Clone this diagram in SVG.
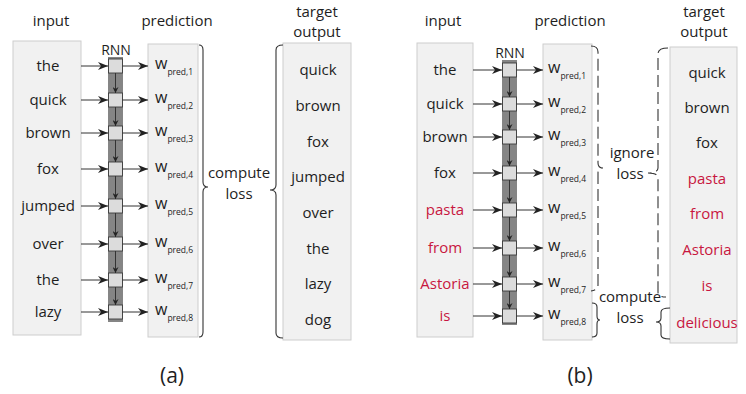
<svg xmlns="http://www.w3.org/2000/svg" width="746" height="394" viewBox="0 0 746 394">
<defs>
<style>
text{font-family:"Open Sans","Noto Sans","DejaVu Sans",sans-serif;fill:#1e1e1e;}
.w{font-size:15px;text-anchor:middle;}
.h{font-size:15px;text-anchor:middle;}
.red{fill:#c8173f;}
.lbl{font-size:21px;text-anchor:middle;}
.rnn{font-size:14px;text-anchor:middle;}
.wp{font-size:16px;}
.sub{font-size:8.5px;}
.box{fill:#f1f1f1;stroke:#cdcdcd;stroke-width:1;}
.strip{fill:#858585;}
.cell{fill:#dcdcdc;stroke:#3a3a3a;stroke-width:0.9;}
.arr{stroke:#333;stroke-width:1;fill:none;marker-end:url(#ah);}
.dn{stroke:#333;stroke-width:1;fill:none;marker-end:url(#ahs);}
.br{stroke:#333;stroke-width:1.1;fill:none;}
.dash{stroke-dasharray:12,5;}
</style>
<marker id="ah" markerUnits="userSpaceOnUse" markerWidth="10" markerHeight="8" refX="10" refY="4" orient="auto">
<path d="M0,0 L10,4 L0,8 L3,4 z" fill="#222"/>
</marker>
<marker id="ahs" markerUnits="userSpaceOnUse" markerWidth="6" markerHeight="6" refX="6" refY="3" orient="auto">
<path d="M0,0 L6,3 L0,6 L2,3 z" fill="#222"/>
</marker>
</defs>

<!-- ========== Panel (a) ========== -->
<g id="a-input">
<rect class="box" x="13" y="41" width="68" height="294"/>
<text class="h" x="51" y="26">input</text>
<text class="w" x="48" y="71">the</text>
<text class="w" x="48" y="105">quick</text>
<text class="w" x="48" y="138">brown</text>
<text class="w" x="48" y="174">fox</text>
<text class="w" x="48" y="211">jumped</text>
<text class="w" x="48" y="249">over</text>
<text class="w" x="48" y="285">the</text>
<text class="w" x="48" y="317">lazy</text>
</g>

<g id="a-rnn">
<text class="rnn" x="116" y="55">RNN</text>
<rect class="strip" x="108" y="57" width="15" height="265"/>
<rect class="cell" x="108.5" y="59" width="14" height="14"/>
<rect class="cell" x="108.5" y="93" width="14" height="14"/>
<rect class="cell" x="108.5" y="126" width="14" height="14"/>
<rect class="cell" x="108.5" y="162" width="14" height="14"/>
<rect class="cell" x="108.5" y="199" width="14" height="14"/>
<rect class="cell" x="108.5" y="237" width="14" height="14"/>
<rect class="cell" x="108.5" y="273" width="14" height="14"/>
<rect class="cell" x="108.5" y="305" width="14" height="14"/>
</g>

<g id="a-prediction">
<rect class="box" x="148" y="44" width="50" height="293"/>
<text class="h" x="177" y="26">prediction</text>
<text x="155" y="69"><tspan class="wp">w</tspan><tspan class="sub" dy="6">pred,1</tspan></text>
<text x="155" y="103"><tspan class="wp">w</tspan><tspan class="sub" dy="6">pred,2</tspan></text>
<text x="155" y="136"><tspan class="wp">w</tspan><tspan class="sub" dy="6">pred,3</tspan></text>
<text x="155" y="172"><tspan class="wp">w</tspan><tspan class="sub" dy="6">pred,4</tspan></text>
<text x="155" y="209"><tspan class="wp">w</tspan><tspan class="sub" dy="6">pred,5</tspan></text>
<text x="155" y="247"><tspan class="wp">w</tspan><tspan class="sub" dy="6">pred,6</tspan></text>
<text x="155" y="283"><tspan class="wp">w</tspan><tspan class="sub" dy="6">pred,7</tspan></text>
<text x="155" y="315"><tspan class="wp">w</tspan><tspan class="sub" dy="6">pred,8</tspan></text>
</g>

<g id="a-loss">
<text class="h" x="239" y="178">compute</text>
<text class="h" x="239" y="199">loss</text>
</g>

<g id="a-target">
<rect class="box" x="283" y="43" width="68" height="297"/>
<text class="h" x="317" y="17">target</text>
<text class="h" x="317" y="37">output</text>
<text class="w" x="318" y="75">quick</text>
<text class="w" x="318" y="111">brown</text>
<text class="w" x="318" y="147">fox</text>
<text class="w" x="318" y="182">jumped</text>
<text class="w" x="318" y="218">over</text>
<text class="w" x="318" y="254">the</text>
<text class="w" x="318" y="289">lazy</text>
<text class="w" x="318" y="325">dog</text>
</g>

<g id="a-label"><text class="lbl" x="172" y="383">(a)</text></g>

<!-- ========== Panel (b) ========== -->
<g id="b-input">
<rect class="box" x="417" y="43" width="56" height="294"/>
<text class="h" x="443" y="26">input</text>
<text class="w" x="445" y="75">the</text>
<text class="w" x="445" y="109">quick</text>
<text class="w" x="445" y="142">brown</text>
<text class="w" x="445" y="178">fox</text>
<text class="w red" x="445" y="215">pasta</text>
<text class="w red" x="445" y="253">from</text>
<text class="w red" x="445" y="289">Astoria</text>
<text class="w red" x="445" y="321">is</text>
</g>

<g id="b-rnn">
<text class="rnn" x="510" y="58">RNN</text>
<rect class="strip" x="502" y="60" width="15" height="265"/>
<rect class="cell" x="502.5" y="63" width="14" height="14"/>
<rect class="cell" x="502.5" y="97" width="14" height="14"/>
<rect class="cell" x="502.5" y="130" width="14" height="14"/>
<rect class="cell" x="502.5" y="166" width="14" height="14"/>
<rect class="cell" x="502.5" y="203" width="14" height="14"/>
<rect class="cell" x="502.5" y="241" width="14" height="14"/>
<rect class="cell" x="502.5" y="277" width="14" height="14"/>
<rect class="cell" x="502.5" y="309" width="14" height="14"/>
</g>

<g id="b-prediction">
<rect class="box" x="543" y="44" width="49" height="296"/>
<text class="h" x="570" y="26">prediction</text>
<text x="548" y="73"><tspan class="wp">w</tspan><tspan class="sub" dy="6">pred,1</tspan></text>
<text x="548" y="107"><tspan class="wp">w</tspan><tspan class="sub" dy="6">pred,2</tspan></text>
<text x="548" y="140"><tspan class="wp">w</tspan><tspan class="sub" dy="6">pred,3</tspan></text>
<text x="548" y="176"><tspan class="wp">w</tspan><tspan class="sub" dy="6">pred,4</tspan></text>
<text x="548" y="213"><tspan class="wp">w</tspan><tspan class="sub" dy="6">pred,5</tspan></text>
<text x="548" y="251"><tspan class="wp">w</tspan><tspan class="sub" dy="6">pred,6</tspan></text>
<text x="548" y="287"><tspan class="wp">w</tspan><tspan class="sub" dy="6">pred,7</tspan></text>
<text x="548" y="319"><tspan class="wp">w</tspan><tspan class="sub" dy="6">pred,8</tspan></text>
</g>

<g id="b-ignore">
<text class="h" x="632" y="158">ignore</text>
<text class="h" x="630" y="179">loss</text>
</g>

<g id="b-compute">
<text class="h" x="630" y="302">compute</text>
<text class="h" x="630" y="323">loss</text>
</g>

<g id="b-target">
<rect class="box" x="670" y="47" width="67" height="296"/>
<text class="h" x="704" y="17">target</text>
<text class="h" x="704" y="37">output</text>
<text class="w" x="707" y="78">quick</text>
<text class="w" x="707" y="113">brown</text>
<text class="w" x="707" y="148">fox</text>
<text class="w red" x="707" y="184">pasta</text>
<text class="w red" x="707" y="219">from</text>
<text class="w red" x="707" y="255">Astoria</text>
<text class="w red" x="707" y="291">is</text>
<text class="w red" x="707" y="328">delicious</text>
</g>

<g id="b-label"><text class="lbl" x="580" y="383">(b)</text></g>

<!-- ========== Connectors ========== -->
<g id="connectors">
<!-- (a) input -> RNN -->
<path class="arr" d="M81,66 H108"/>
<path class="arr" d="M81,100 H108"/>
<path class="arr" d="M81,133 H108"/>
<path class="arr" d="M81,169 H108"/>
<path class="arr" d="M81,206 H108"/>
<path class="arr" d="M81,244 H108"/>
<path class="arr" d="M81,280 H108"/>
<path class="arr" d="M81,312 H108"/>
<!-- (a) RNN -> prediction -->
<path class="arr" d="M122.5,66 H148"/>
<path class="arr" d="M122.5,100 H148"/>
<path class="arr" d="M122.5,133 H148"/>
<path class="arr" d="M122.5,169 H148"/>
<path class="arr" d="M122.5,206 H148"/>
<path class="arr" d="M122.5,244 H148"/>
<path class="arr" d="M122.5,280 H148"/>
<path class="arr" d="M122.5,312 H148"/>
<!-- (a) recurrent -->
<path class="dn" d="M115.5,73 V93"/>
<path class="dn" d="M115.5,107 V126"/>
<path class="dn" d="M115.5,140 V162"/>
<path class="dn" d="M115.5,176 V199"/>
<path class="dn" d="M115.5,213 V237"/>
<path class="dn" d="M115.5,251 V273"/>
<path class="dn" d="M115.5,287 V305"/>
<!-- (a) braces -->
<path class="br" d="M199,45 Q203,45 203,50 L203,182 Q203,187 208,187 Q203,187 203,192 L203,332 Q203,337 199,337"/>
<path class="br" d="M283,45 Q276,45 276,50 L276,185 Q276,190 270,190 Q276,190 276,195 L276,333 Q276,338 283,338"/>

<!-- (b) input -> RNN -->
<path class="arr" d="M473,70 H502"/>
<path class="arr" d="M473,104 H502"/>
<path class="arr" d="M473,137 H502"/>
<path class="arr" d="M473,173 H502"/>
<path class="arr" d="M473,210 H502"/>
<path class="arr" d="M473,248 H502"/>
<path class="arr" d="M473,284 H502"/>
<path class="arr" d="M473,316 H502"/>
<!-- (b) RNN -> prediction -->
<path class="arr" d="M516.5,70 H543"/>
<path class="arr" d="M516.5,104 H543"/>
<path class="arr" d="M516.5,137 H543"/>
<path class="arr" d="M516.5,173 H543"/>
<path class="arr" d="M516.5,210 H543"/>
<path class="arr" d="M516.5,248 H543"/>
<path class="arr" d="M516.5,284 H543"/>
<path class="arr" d="M516.5,316 H543"/>
<!-- (b) recurrent -->
<path class="dn" d="M509.5,77 V97"/>
<path class="dn" d="M509.5,111 V130"/>
<path class="dn" d="M509.5,144 V166"/>
<path class="dn" d="M509.5,180 V203"/>
<path class="dn" d="M509.5,217 V241"/>
<path class="dn" d="M509.5,255 V277"/>
<path class="dn" d="M509.5,291 V309"/>
<!-- (b) braces -->
<path class="br dash" d="M591,46 Q598,46 598,52 L598,163 Q598,168 603,168 Q598,168 598,173 L598,285 Q598,290 591,291"/>
<path class="br dash" d="M668,48 Q658,48 658,54 L658,168 Q658,173 648,173 Q658,173 658,178 L658,292 Q658,297 666,297"/>
<path class="br" d="M592,303 Q597,303 597,307 L597,316 Q597,320 600,320 Q597,320 597,324 L597,333 Q597,337 592,337"/>
<path class="br" d="M670,308 Q661,308 661,312 L661,318 Q661,322 656,322 Q661,322 661,326 L661,335 Q661,339 670,339"/>
</g>
</svg>
